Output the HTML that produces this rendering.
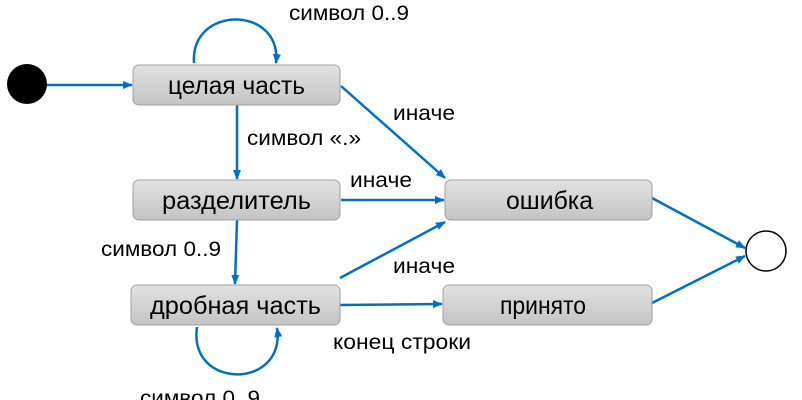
<!DOCTYPE html>
<html><head><meta charset="utf-8"><style>
body{margin:0;background:#fff;}
svg{display:block;font-family:"Liberation Sans","Noto Sans CJK SC",sans-serif;}
</style></head><body>
<svg width="802" height="400" viewBox="0 0 802 400" xmlns="http://www.w3.org/2000/svg">
<defs>
<linearGradient id="g" x1="0" y1="0" x2="0" y2="1"><stop offset="0" stop-color="#e2e2e2"/><stop offset="1" stop-color="#c4c4c4"/></linearGradient>
<marker id="a" markerWidth="10" markerHeight="8" refX="9" refY="4" orient="auto" markerUnits="userSpaceOnUse"><path d="M0,0 L10,4 L0,8 z" fill="#0070c0"/></marker>
</defs>
<g stroke="#0070c0" stroke-width="2.5" fill="none" marker-end="url(#a)">
<line x1="47" y1="85" x2="132" y2="85"/>
<path d="M194,63 C190,5 282,5 276,63"/>
<line x1="237" y1="105" x2="237" y2="179"/>
<line x1="341" y1="86" x2="445" y2="178"/>
<line x1="341" y1="200" x2="444" y2="200"/>
<line x1="237" y1="220" x2="235" y2="284"/>
<line x1="340" y1="278" x2="445" y2="222"/>
<line x1="340" y1="305" x2="442" y2="304"/>
<path d="M197,327 C188,390 286,390 277,328"/>
<line x1="652" y1="198" x2="745" y2="248"/>
<line x1="652" y1="303" x2="745" y2="256"/>
</g>
<circle cx="27" cy="84" r="20" fill="#000"/>
<circle cx="766" cy="251" r="20" fill="#fff" stroke="#000" stroke-width="1.5"/>
<g stroke="#a0a0a0" stroke-width="1" fill="url(#g)">
<rect x="133" y="65" width="207" height="40" rx="6"/>
<rect x="133" y="180" width="207" height="40" rx="6"/>
<rect x="131" y="285" width="209" height="40" rx="6"/>
<rect x="445" y="180" width="207" height="40" rx="6"/>
<rect x="443" y="285" width="209" height="40" rx="6"/>
</g>
<g font-size="25" fill="#000">
<text x="168" y="94" textLength="137" lengthAdjust="spacingAndGlyphs">целая часть</text>
<text x="162" y="209" textLength="149" lengthAdjust="spacingAndGlyphs">разделитель</text>
<text x="150" y="314" textLength="171" lengthAdjust="spacingAndGlyphs">дробная часть</text>
<text x="506" y="209" textLength="87" lengthAdjust="spacingAndGlyphs">ошибка</text>
<text x="500" y="314" textLength="86" lengthAdjust="spacingAndGlyphs">принято</text>
</g>
<g font-size="21.5" fill="#000">
<text x="289" y="20" textLength="120" lengthAdjust="spacingAndGlyphs">символ 0..9</text>
<text x="247" y="145" textLength="114" lengthAdjust="spacingAndGlyphs">символ «.»</text>
<text x="393" y="120" textLength="62" lengthAdjust="spacingAndGlyphs">иначе</text>
<text x="350" y="187" textLength="62" lengthAdjust="spacingAndGlyphs">иначе</text>
<text x="101" y="256" textLength="120" lengthAdjust="spacingAndGlyphs">символ 0..9</text>
<text x="393" y="273" textLength="62" lengthAdjust="spacingAndGlyphs">иначе</text>
<text x="333" y="349" textLength="138" lengthAdjust="spacingAndGlyphs">конец строки</text>
<text x="140" y="405" textLength="120" lengthAdjust="spacingAndGlyphs">символ 0..9</text>
</g>
</svg>
</body></html>
